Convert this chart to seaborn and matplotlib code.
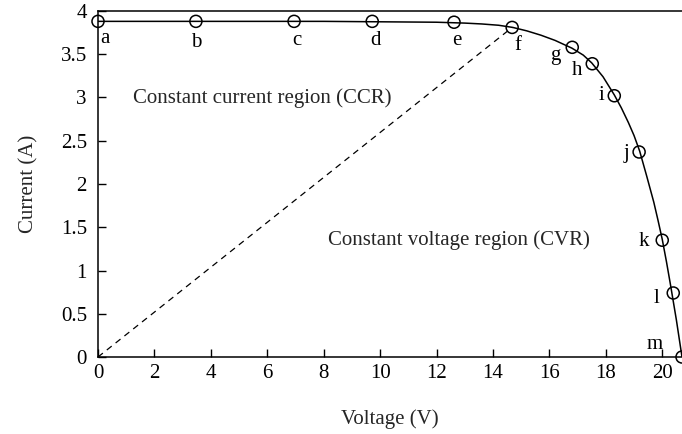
import matplotlib
matplotlib.use("Agg")
import matplotlib.pyplot as plt
import seaborn as sns
import pandas as pd

# Measured operating points (voltage in V, current in A)
point_labels = ["a", "b", "c", "d", "e", "f", "g", "h", "i", "j", "k", "l", "m"]
point_voltage = [0.0, 3.47, 6.95, 9.72, 12.62, 14.68, 16.81, 17.52, 18.30, 19.18, 20.0, 20.39, 20.70]
point_current = [3.88, 3.88, 3.88, 3.88, 3.87, 3.81, 3.58, 3.39, 3.02, 2.37, 1.35, 0.74, 0.0]

# I-V characteristic curve
curve_voltage = [0.0, 4.0, 8.0, 10.0, 12.0, 13.0, 13.6, 14.2, 14.7, 15.2, 15.7, 16.2,
                 16.8, 17.2, 17.5, 17.9, 18.3, 18.55, 18.8, 19.0, 19.2, 19.45,
                 19.7, 19.85, 20.0, 20.15, 20.3, 20.5, 20.7]
curve_current = [3.88, 3.88, 3.88, 3.875, 3.87, 3.86, 3.85, 3.835, 3.81, 3.77, 3.72, 3.66,
                 3.57, 3.49, 3.40, 3.24, 3.03, 2.88, 2.71, 2.56, 2.38, 2.09,
                 1.79, 1.58, 1.36, 1.10, 0.82, 0.43, 0.0]

# Boundary between the two regions: origin to point f
boundary_voltage = [0.0, 14.68]
boundary_current = [0.0, 3.81]

x_ticks = [0, 2, 4, 6, 8, 10, 12, 14, 16, 18, 20]
y_ticks = [0, 0.5, 1, 1.5, 2, 2.5, 3, 3.5, 4]
y_tick_labels = ["0", "0.5", "1", "1.5", "2", "2.5", "3", "3.5", "4"]

# Label offsets (points) for each operating point
label_offsets = {
    "a": (5, -12), "b": (0, -15), "c": (2, -14), "d": (2, -14), "e": (2, -13),
    "f": (4, -13), "g": (-12, -6), "h": (-11, -5), "i": (-9, 0), "j": (-9, -1),
    "k": (-13, -1), "l": (-12, -4), "m": (-20, 9),
}

sns.set_theme(style="ticks")
plt.rcParams["font.family"] = ["Liberation Serif", "DejaVu Serif"]
plt.rcParams["xtick.direction"] = "in"
plt.rcParams["ytick.direction"] = "in"

FS = 15

fig = plt.figure(figsize=(6.82, 4.34), dpi=100)
ax = fig.add_axes([0.1437, 0.1774, 0.8563, 0.7973])

curve_df = pd.DataFrame({"V": curve_voltage, "I": curve_current})
points_df = pd.DataFrame({"V": point_voltage, "I": point_current, "label": point_labels})

sns.lineplot(data=curve_df, x="V", y="I", ax=ax, color="black", linewidth=1.1,
             sort=False, estimator=None)
ax.plot(boundary_voltage, boundary_current, color="black", linewidth=0.9,
        linestyle=(0, (5, 4)))
sns.scatterplot(data=points_df, x="V", y="I", ax=ax, s=75, marker="o",
                facecolor="none", edgecolor="black", linewidth=1.1, clip_on=False,
                zorder=5)

for lab, v, i in zip(point_labels, point_voltage, point_current):
    dx, dy = label_offsets[lab]
    ax.annotate(lab, (v, i), xytext=(dx, dy), textcoords="offset points",
                ha="center", va="center", fontsize=FS, color="black")

ax.text(1.24, 2.99, "Constant current region (CCR)", fontsize=FS, va="center", ha="left")
ax.text(8.15, 1.35, "Constant voltage region (CVR)", fontsize=FS, va="center", ha="left")

ax.set_xlim(0, 20.7)
ax.set_ylim(0, 4)
ax.set_xticks(x_ticks)
ax.set_xticklabels([str(t) for t in x_ticks])
ax.set_yticks(y_ticks)
ax.set_yticklabels(y_tick_labels)
ax.tick_params(axis="both", labelsize=FS, length=6, width=1.0, colors="black")
ax.tick_params(axis="y", pad=8)
ax.tick_params(axis="x", pad=5)

ax.set_xlabel("Voltage (V)", fontsize=FS, labelpad=19)
ax.set_ylabel("Current (A)", fontsize=FS, labelpad=16)

for side in ["left", "bottom", "top"]:
    ax.spines[side].set_color("black")
    ax.spines[side].set_linewidth(1.1)
ax.spines["right"].set_visible(False)

fig.savefig("out.png", dpi=100)
